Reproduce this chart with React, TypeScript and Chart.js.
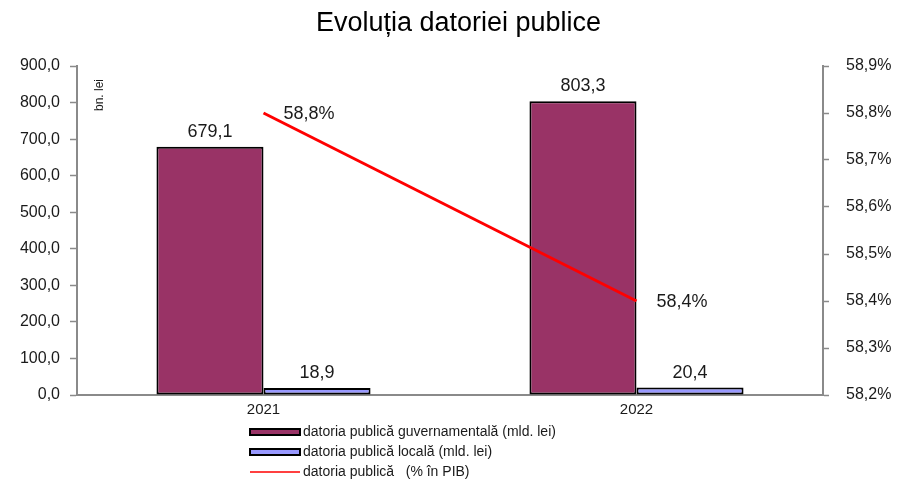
import { useEffect, useRef } from 'react';
import { Chart, registerables } from 'chart.js';

Chart.register(...registerables);

// Categories and series
const years = ['2021', '2022'];
const govDebt = [679.1, 803.3]; // mld. lei
const localDebt = [18.9, 20.4]; // mld. lei
const debtPctGdp = [58.8, 58.4]; // % în PIB

const seriesNames = [
  'datoria publică guvernamentală (mld. lei)',
  'datoria publică locală (mld. lei)',
  'datoria publică   (% în PIB)',
];

// Axis ranges
const leftMin = 0;
const leftMax = 900;
const leftStep = 100;
const rightMin = 58.2;
const rightMax = 58.9;
const rightStep = 0.1;

const titleText = 'Evoluția datoriei publice';
const unitLabel = 'bn. lei';

const FONT = '"Liberation Sans", Arial, Helvetica, sans-serif';
const TEXT = '#1a1a1a';
const AXIS = '#8a8a8a';

const fmt = (v: number) => v.toFixed(1).replace('.', ',');

// Value labels above bars and beside the line points
const valueLabels = {
  id: 'valueLabels',
  afterDatasetsDraw(chart: any) {
    const { ctx } = chart;
    ctx.save();
    ctx.fillStyle = TEXT;
    ctx.font = `18px ${FONT}`;
    ctx.textBaseline = 'alphabetic';
    chart.data.datasets.forEach((ds: any, i: number) => {
      const meta = chart.getDatasetMeta(i);
      meta.data.forEach((el: any, j: number) => {
        const v = ds.data[j] as number;
        if (meta.type === 'bar') {
          ctx.textAlign = 'center';
          ctx.fillText(fmt(v), el.x, el.y - 10);
        } else {
          ctx.textAlign = 'left';
          ctx.fillText(fmt(v) + '%', el.x + 20, el.y + 6);
        }
      });
    });
    ctx.restore();
  },
};

// Rotated unit caption inside the plot, next to the left axis
const unitCaption = {
  id: 'unitCaption',
  afterDraw(chart: any, _args: any, opts: any) {
    const { ctx, chartArea } = chart;
    ctx.save();
    ctx.translate(chartArea.left + opts.dx, chartArea.top + opts.dy);
    ctx.rotate(-Math.PI / 2);
    ctx.fillStyle = TEXT;
    ctx.font = `12px ${FONT}`;
    ctx.textAlign = 'center';
    ctx.textBaseline = 'middle';
    ctx.fillText(opts.text, 0, 0);
    ctx.restore();
  },
};

// Legend stacked in a single column below the x axis
const stackedLegend = {
  id: 'stackedLegend',
  afterDraw(chart: any, _args: any, opts: any) {
    const { ctx, chartArea } = chart;
    const left = chartArea.left + opts.offsetX;
    ctx.save();
    ctx.font = `14px ${FONT}`;
    ctx.textBaseline = 'middle';
    ctx.textAlign = 'left';
    chart.data.datasets.forEach((ds: any, i: number) => {
      const y = chartArea.bottom + opts.offsetY + i * opts.rowGap;
      if (ds.type === 'line') {
        ctx.strokeStyle = ds.borderColor;
        ctx.lineWidth = 1.5;
        ctx.beginPath();
        ctx.moveTo(left, y);
        ctx.lineTo(left + opts.boxWidth, y);
        ctx.stroke();
      } else {
        ctx.fillStyle = ds.backgroundColor;
        ctx.fillRect(left, y - opts.boxHeight / 2, opts.boxWidth, opts.boxHeight);
        ctx.strokeStyle = '#000';
        ctx.lineWidth = 2;
        ctx.strokeRect(left, y - opts.boxHeight / 2, opts.boxWidth, opts.boxHeight);
      }
      ctx.fillStyle = TEXT;
      ctx.fillText(ds.label, left + opts.boxWidth + 3, y);
    });
    ctx.restore();
  },
};

export default function App() {
  const canvasRef = useRef<HTMLCanvasElement | null>(null);

  useEffect(() => {
    if (!canvasRef.current) return;
    const chart = new Chart(canvasRef.current, {
      type: 'bar',
      data: {
        labels: years,
        datasets: [
          {
            type: 'bar',
            label: seriesNames[0],
            data: govDebt,
            backgroundColor: '#993366',
            borderColor: '#000',
            borderWidth: 2,
            borderSkipped: false,
            yAxisID: 'y',
            order: 1,
          },
          {
            type: 'bar',
            label: seriesNames[1],
            data: localDebt,
            backgroundColor: '#9999ff',
            borderColor: '#000',
            borderWidth: 2,
            borderSkipped: false,
            yAxisID: 'y',
            order: 1,
          },
          {
            type: 'line',
            label: seriesNames[2],
            data: debtPctGdp,
            borderColor: '#ff0000',
            backgroundColor: '#ff0000',
            borderWidth: 3,
            pointRadius: 0,
            tension: 0,
            yAxisID: 'y1',
            order: 0,
          },
        ] as any,
      },
      options: {
        responsive: false,
        animation: false,
        layout: { padding: 0 },
        datasets: {
          bar: { categoryPercentage: 0.574, barPercentage: 1 },
        },
        scales: {
          x: {
            position: 'bottom',
            grid: { display: false, drawTicks: false },
            border: { display: true, color: AXIS, width: 2 },
            ticks: { color: TEXT, font: { family: FONT, size: 15 }, padding: 6 },
            afterFit(scale: any) {
              scale.height = 84;
            },
          },
          y: {
            position: 'left',
            min: leftMin,
            max: leftMax,
            grid: {
              display: true,
              drawOnChartArea: false,
              drawTicks: true,
              tickLength: 7,
              tickColor: AXIS,
              tickWidth: 1.5,
            },
            border: { display: true, color: AXIS, width: 2 },
            ticks: {
              stepSize: leftStep,
              color: TEXT,
              font: { family: FONT, size: 16 },
              padding: 10,
              callback: (v: any) => fmt(Number(v)),
            },
            afterFit(scale: any) {
              scale.width = 77;
            },
          },
          y1: {
            position: 'right',
            min: rightMin,
            max: rightMax,
            grid: {
              display: true,
              drawOnChartArea: false,
              drawTicks: true,
              tickLength: 6,
              tickColor: AXIS,
              tickWidth: 1.5,
            },
            border: { display: true, color: AXIS, width: 2 },
            ticks: {
              stepSize: rightStep,
              color: TEXT,
              font: { family: FONT, size: 16 },
              padding: 17,
              callback: (v: any) => fmt(Number(v)) + '%',
            },
            afterFit(scale: any) {
              scale.width = 94;
            },
          },
        },
        plugins: {
          legend: { display: false },
          tooltip: { enabled: false },
          title: {
            display: true,
            text: titleText,
            color: '#000',
            font: { family: FONT, size: 27, weight: 'normal' },
            padding: { top: 7, bottom: 26.6 },
          },
          unitCaption: { text: unitLabel, dx: 23, dy: 29 },
          stackedLegend: {
            offsetX: 173,
            offsetY: 37,
            rowGap: 20,
            boxWidth: 50,
            boxHeight: 6,
          },
        } as any,
      },
      plugins: [valueLabels, unitCaption, stackedLegend],
    });
    return () => chart.destroy();
  }, []);

  return (
    <div style={{ position: 'fixed', left: 0, top: 0, width: 917, height: 479, background: '#fff' }}>
      <canvas ref={canvasRef} width={917} height={479} />
    </div>
  );
}
